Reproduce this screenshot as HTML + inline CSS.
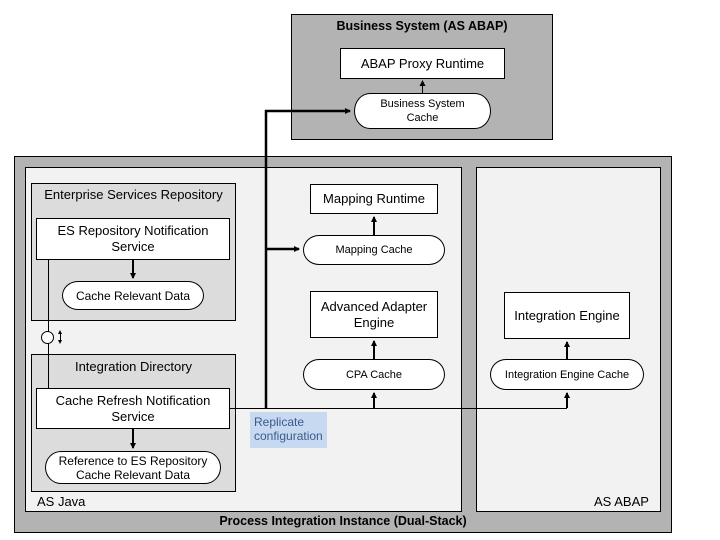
<!DOCTYPE html><html><head><style>
body{margin:0;width:720px;height:540px;background:#fff;position:relative;font-family:"Liberation Sans",Arial,sans-serif;overflow:hidden}
div{position:absolute;box-sizing:border-box}
.b{border:1px solid #000}
.w{background:#fff;border:1px solid #000;display:flex;align-items:center;justify-content:center;text-align:center;font-size:13px;line-height:16px}
.p{border-radius:16px/50%;font-size:11px;line-height:14px}
</style></head><body>
<div class="b" style="left:291px;top:14px;width:262px;height:126px;background:#b3b3b3"></div>
<div style="left:291px;top:19px;width:262px;text-align:center;font-weight:bold;font-size:12.5px">Business System (AS ABAP)</div>
<div class="w" style="left:340px;top:48px;width:165px;height:31px">ABAP Proxy Runtime</div>
<div class="w p" style="left:354px;top:93px;width:137px;height:36px">Business System<br>Cache</div>

<div class="b" style="left:14px;top:156px;width:658px;height:377px;background:#b3b3b3"></div>
<div class="b" style="left:25px;top:167px;width:437px;height:345px;background:#f2f2f2"></div>
<div class="b" style="left:476px;top:167px;width:185px;height:345px;background:#f2f2f2"></div>
<div style="left:14px;top:514px;width:658px;text-align:center;font-weight:bold;font-size:12.5px">Process Integration Instance (Dual-Stack)</div>
<div style="left:37px;top:494px;font-size:13px">AS Java</div>
<div style="left:594px;top:494px;font-size:13px">AS ABAP</div>

<div class="b" style="left:31px;top:183px;width:205px;height:138px;background:#dcdcdc"></div>
<div style="left:31px;top:187px;width:205px;text-align:center;font-size:13px">Enterprise Services Repository</div>
<div class="w" style="left:36px;top:218px;width:194px;height:42px">ES Repository Notification<br>Service</div>
<div class="w p" style="left:62px;top:281px;width:142px;height:29px;font-size:12px">Cache Relevant Data</div>

<div class="b" style="left:31px;top:354px;width:205px;height:138px;background:#dcdcdc"></div>
<div style="left:31px;top:359px;width:205px;text-align:center;font-size:13px">Integration Directory</div>
<div class="w" style="left:36px;top:388px;width:194px;height:41px">Cache Refresh Notification<br>Service</div>
<div class="w p" style="left:45px;top:451px;width:176px;height:33px;font-size:12px">Reference to ES Repository<br>Cache Relevant Data</div>

<div class="w" style="left:310px;top:184px;width:128px;height:30px">Mapping Runtime</div>
<div class="w p" style="left:303px;top:235px;width:142px;height:30px">Mapping Cache</div>
<div class="w" style="left:310px;top:291px;width:128px;height:47px">Advanced Adapter<br>Engine</div>
<div class="w p" style="left:303px;top:359px;width:142px;height:31px">CPA Cache</div>
<div class="w" style="left:504px;top:292px;width:126px;height:47px">Integration Engine</div>
<div class="w p" style="left:490px;top:359px;width:154px;height:31px">Integration Engine Cache</div>

<div style="left:250px;top:412px;width:77px;height:36px;background:#c6d9f0;color:#3a5a8c;font-size:12px;line-height:14px;padding:3px 0 0 4px">Replicate<br>configuration</div>

<svg width="720" height="540" style="position:absolute;left:0;top:0">
<defs><marker id="a" markerWidth="6" markerHeight="6" refX="5" refY="3" orient="auto" markerUnits="userSpaceOnUse"><path d="M0,0L6,3L0,6z"/></marker></defs>
<g stroke="#000" fill="none">
<line x1="48.5" y1="260" x2="48.5" y2="388"/>
<circle cx="47.5" cy="337.5" r="6" fill="#fff"/>
<line x1="230" y1="408.5" x2="567" y2="408.5"/>
<g stroke-width="2.5">
<polyline points="266,408 266,111 350,111" marker-end="url(#a)"/>
<line x1="266" y1="249" x2="299" y2="249" marker-end="url(#a)"/>
</g>
<g stroke-width="2">
<line x1="374" y1="408" x2="374" y2="393" marker-end="url(#a)"/>
<line x1="567" y1="408" x2="567" y2="393" marker-end="url(#a)"/>
<line x1="374" y1="359" x2="374" y2="341" marker-end="url(#a)"/>
<line x1="567" y1="359" x2="567" y2="342" marker-end="url(#a)"/>
<line x1="374" y1="235" x2="374" y2="217" marker-end="url(#a)"/>
<line x1="133" y1="260" x2="133" y2="278" marker-end="url(#a)"/>
<line x1="133" y1="429" x2="133" y2="448" marker-end="url(#a)"/>
</g>
<line x1="422.5" y1="93" x2="422.5" y2="81" marker-end="url(#a)"/>
<line x1="60.5" y1="333" x2="60.5" y2="341" stroke-width="1"/>
</g>
<path d="M58,334L60,330L62,334zM58,340L60,344L62,340z"/>
</svg>
</body></html>
